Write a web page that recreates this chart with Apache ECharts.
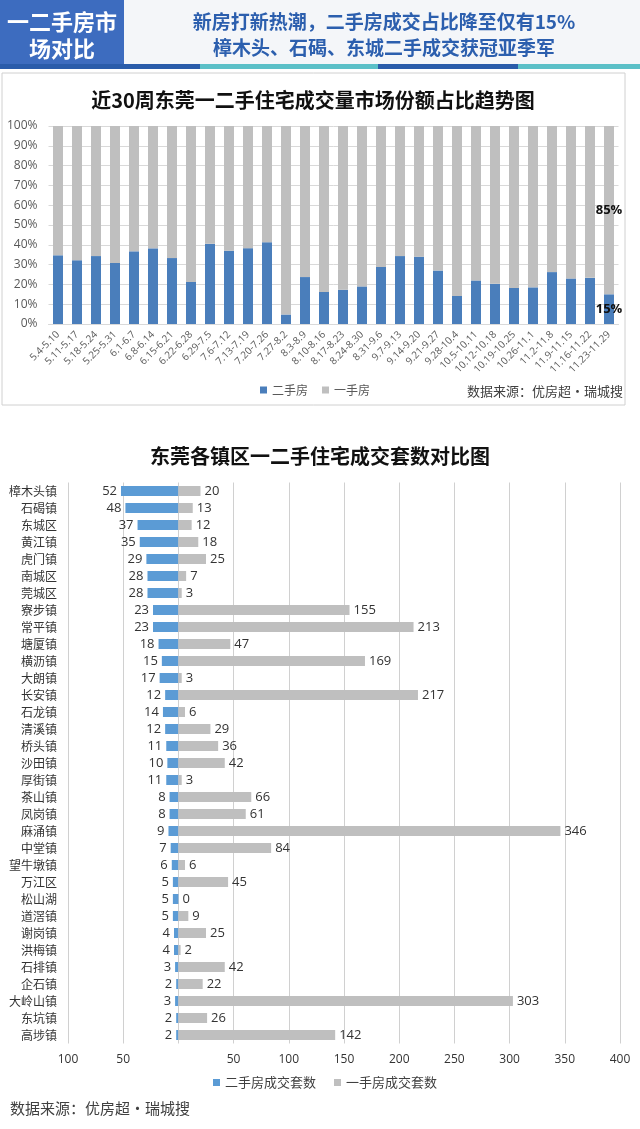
<!DOCTYPE html>
<html><head><meta charset="utf-8">
<script src="https://cdn.jsdelivr.net/npm/echarts@6/dist/echarts.min.js"></script>
<style>html,body{margin:0;padding:0;background:#fff;}#c{width:640px;height:1129px;}</style>
</head><body><div id="c"></div>
<script>
// ---- Top chart data ----
const weeks = ['5.4-5.10','5.11-5.17','5.18-5.24','5.25-5.31','6.1-6.7','6.8-6.14','6.15-6.21','6.22-6.28','6.29-7.5','7.6-7.12','7.13-7.19','7.20-7.26','7.27-8.2','8.3-8.9','8.10-8.16','8.17-8.23','8.24-8.30','8.31-9.6','9.7-9.13','9.14-9.20','9.21-9.27','9.28-10.4','10.5-10.11','10.12-10.18','10.19-10.25','10.26-11.1','11.2-11.8','11.9-11.15','11.16-11.22','11.23-11.29'];
const secondShare = [34.7,32.2,34.3,30.8,36.7,38.2,33.3,21.2,40.5,37.0,38.3,41.3,4.8,23.7,16.2,17.3,19.0,28.8,34.3,34.0,27.0,14.2,22.0,20.3,18.2,18.5,26.2,23.0,23.3,15.0];
const firstShare  = [65.3,67.8,65.7,69.2,63.3,61.8,66.7,78.8,59.5,63.0,61.7,58.7,95.2,76.3,83.8,82.7,81.0,71.2,65.7,66.0,73.0,85.8,78.0,79.7,81.8,81.5,73.8,77.0,76.7,85.0];
const pctTicks = [0,10,20,30,40,50,60,70,80,90,100];

// ---- Bottom chart data ----
const towns = ['樟木头镇','石碣镇','东城区','黄江镇','虎门镇','南城区','莞城区','寮步镇','常平镇','塘厦镇','横沥镇','大朗镇','长安镇','石龙镇','清溪镇','桥头镇','沙田镇','厚街镇','茶山镇','凤岗镇','麻涌镇','中堂镇','望牛墩镇','万江区','松山湖','道滘镇','谢岗镇','洪梅镇','石排镇','企石镇','大岭山镇','东坑镇','高埗镇'];
const secondCount = [52,48,37,35,29,28,28,23,23,18,15,17,12,14,12,11,10,11,8,8,9,7,6,5,5,5,4,4,3,2,3,2,2];
const firstCount  = [20,13,12,18,25,7,3,155,213,47,169,3,217,6,29,36,42,3,66,61,346,84,6,45,0,9,25,2,42,22,303,26,142];
const countTicks = [-100,-50,0,50,100,150,200,250,300,350,400];

const FF = '"Open Sans","Noto Sans CJK SC",sans-serif';
const CJK = '"Noto Sans CJK SC",sans-serif';
const BLUE1 = '#4a7ebb', GRAY = '#bfbfbf', BLUE2 = '#5b9bd5';
const n = weeks.length;

const chart = echarts.init(document.getElementById('c'), null, {renderer:'canvas'});
chart.setOption({
  animation:false,
  backgroundColor:'#ffffff',
  textStyle:{fontFamily:FF},
  graphic:[
    {type:'rect', shape:{x:0,y:0,width:640,height:64}, style:{fill:'#f4f6f9'}},
    {type:'rect', shape:{x:0,y:0,width:124,height:64}, style:{fill:'#3d6cbf'}},
    {type:'text', x:62, y:22, style:{text:'一二手房市', fill:'#fff', font:'bold 22px '+CJK, textAlign:'center', textVerticalAlign:'middle'}},
    {type:'text', x:62, y:49, style:{text:'场对比', fill:'#fff', font:'bold 22px '+CJK, textAlign:'center', textVerticalAlign:'middle'}},
    {type:'text', x:384, y:22, style:{text:'新房打新热潮，二手房成交占比降至仅有15%', fill:'#2c5fae', font:'bold 19px '+CJK, textAlign:'center', textVerticalAlign:'middle'}},
    {type:'text', x:384, y:48, style:{text:'樟木头、石碣、东城二手成交获冠亚季军', fill:'#2c5fae', font:'bold 19px '+CJK, textAlign:'center', textVerticalAlign:'middle'}},
    {type:'rect', shape:{x:0,y:64,width:200,height:5}, style:{fill:'#2a5caa'}},
    {type:'rect', shape:{x:200,y:64,width:178,height:5}, style:{fill:'#5bc0c8'}},
    {type:'rect', shape:{x:378,y:64,width:140,height:5}, style:{fill:'#2a5caa'}},
    {type:'rect', shape:{x:518,y:64,width:122,height:5}, style:{fill:'#5bc0c8'}},
    {type:'rect', shape:{x:2,y:73,width:623,height:332}, style:{fill:'none', stroke:'#d0d0d0', lineWidth:1}},
    {type:'text', x:313, y:100, style:{text:'近30周东莞一二手住宅成交量市场份额占比趋势图', fill:'#111', font:'bold 20px '+CJK, textAlign:'center', textVerticalAlign:'middle'}},
    {type:'text', x:623, y:391, style:{text:'数据来源：优房超·瑞城搜', fill:'#404040', font:'13px '+CJK, textAlign:'right', textVerticalAlign:'middle'}},
    {type:'text', x:320, y:456, style:{text:'东莞各镇区一二手住宅成交套数对比图', fill:'#111', font:'bold 20px '+CJK, textAlign:'center', textVerticalAlign:'middle'}},
    {type:'text', x:10, y:1108, style:{text:'数据来源：优房超·瑞城搜', fill:'#404040', font:'15px '+CJK, textAlign:'left', textVerticalAlign:'middle'}}
  ],
  legend:[
    {data:['二手房','一手房'], left:255, top:379, itemWidth:7, itemHeight:7, itemGap:14, icon:'rect',
     textStyle:{fontFamily:CJK, fontSize:12, color:'#595959'}},
    {data:['二手房成交套数','一手房成交套数'], left:208, top:1071, itemWidth:7, itemHeight:7, itemGap:18, icon:'rect',
     textStyle:{fontFamily:CJK, fontSize:13, color:'#404040'}}
  ],
  grid:[
    {left:48.5, right:21.5, top:126, height:198},
    {left:68, right:20, top:482.5, height:561}
  ],
  xAxis:[
    {gridIndex:0, type:'category', data:weeks, axisTick:{show:false},
     axisLine:{lineStyle:{color:'#d9d9d9'}},
     axisLabel:{interval:0, rotate:45, fontSize:10, color:'#595959', margin:9}},
    {gridIndex:1, type:'value', min:countTicks[0], max:countTicks[countTicks.length-1], interval:50,
     axisLine:{show:false}, axisTick:{show:false},
     splitLine:{lineStyle:{color:'#d0d0d0'}},
     axisLabel:{fontSize:12, color:'#333', margin:10, formatter:v=> v===0 ? '' : String(Math.abs(v))}}
  ],
  yAxis:[
    {gridIndex:0, type:'value', min:pctTicks[0], max:pctTicks[pctTicks.length-1], interval:10,
     axisLine:{show:false}, axisTick:{show:false},
     splitLine:{lineStyle:{color:'#d9d9d9'}},
     axisLabel:{fontSize:12, color:'#595959', margin:11, formatter:'{value}%'}},
    {gridIndex:1, type:'category', data:towns, inverse:true,
     axisLine:{show:false}, axisTick:{show:false},
     axisLabel:{fontFamily:CJK, fontSize:12, color:'#333', margin:11}}
  ],
  series:[
    {name:'二手房', type:'bar', xAxisIndex:0, yAxisIndex:0, stack:'s', barWidth:10,
     itemStyle:{color:BLUE1},
     data: secondShare.map((v,i)=> i===n-1 ? {value:v, label:{show:true, position:'inside', formatter:'15%', color:'#111', fontWeight:'bold', fontSize:13}} : v)},
    {name:'一手房', type:'bar', xAxisIndex:0, yAxisIndex:0, stack:'s', barWidth:10,
     itemStyle:{color:GRAY},
     data: firstShare.map((v,i)=> i===n-1 ? {value:v, label:{show:true, position:'inside', formatter:'85%', color:'#111', fontWeight:'bold', fontSize:13}} : v)},
    {name:'二手房成交套数', type:'bar', xAxisIndex:1, yAxisIndex:1, barWidth:10, barGap:'-100%',
     itemStyle:{color:BLUE2},
     label:{show:true, position:'left', distance:4, fontSize:13, color:'#333', formatter:p=>String(Math.abs(p.value))},
     data: secondCount.map(v=>-v)},
    {name:'一手房成交套数', type:'bar', xAxisIndex:1, yAxisIndex:1, barWidth:10, barGap:'-100%',
     itemStyle:{color:GRAY},
     label:{show:true, position:'right', distance:4, fontSize:13, color:'#333'},
     data: firstCount}
  ]
});
</script></body></html>
